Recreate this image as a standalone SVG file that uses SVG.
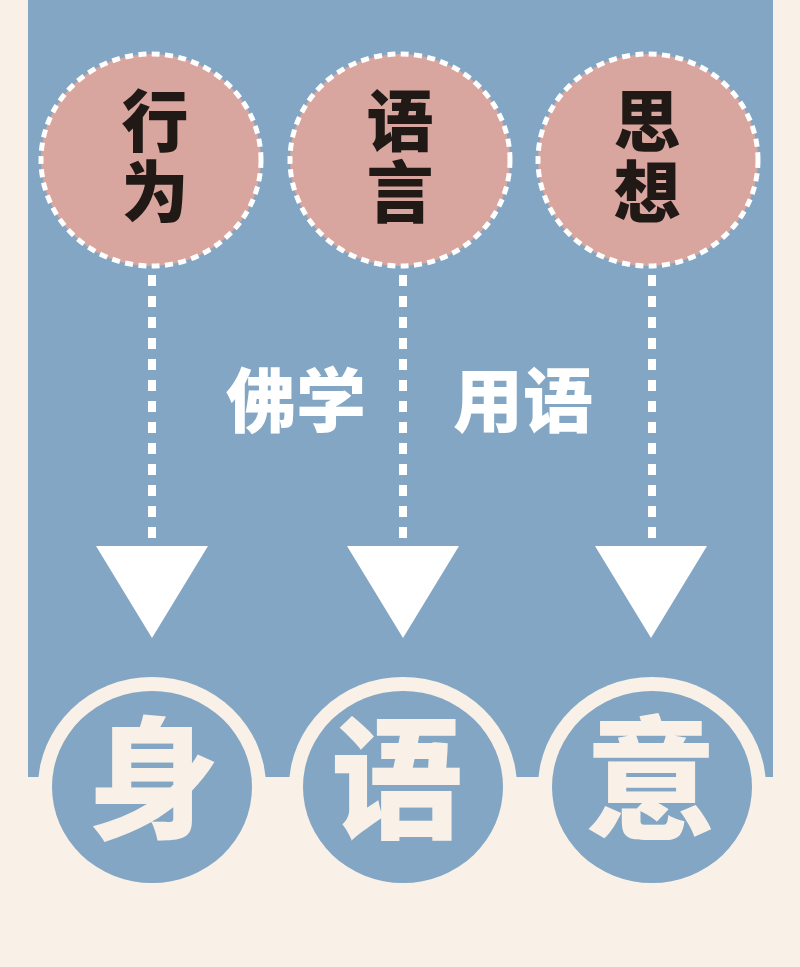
<svg xmlns="http://www.w3.org/2000/svg" width="800" height="967" viewBox="0 0 800 967">
<style>
.top{fill:#d8a59f;stroke:#ffffff;stroke-width:5;stroke-dasharray:8 5.4}
.tt{font-family:"Noto Sans CJK SC","Noto Sans CJK TC",sans-serif;font-weight:900;font-size:67px;fill:#211915;text-anchor:middle;writing-mode:vertical-rl;letter-spacing:4px}
.mt{font-family:"Noto Sans CJK SC","Noto Sans CJK TC",sans-serif;font-weight:900;font-size:70px;fill:#ffffff;text-anchor:middle}
.bt{font-family:"Noto Sans CJK SC","Noto Sans CJK TC",sans-serif;font-weight:900;font-size:132px;fill:#f9f1e7;text-anchor:middle}
.ring{fill:#f9f1e7}
.inner{fill:#82a6c3}
.dash{stroke:#ffffff;stroke-width:8;stroke-dasharray:11 10;fill:none}
.arrow{fill:#ffffff}
</style>
<rect x="0" y="0" width="800" height="967" fill="#f9f1e7"/>
<rect x="28" y="0" width="745" height="777" fill="#82a6c3"/>
<g id="connectors">
<line class="dash" x1="152" y1="275" x2="152" y2="538"/>
<line class="dash" x1="403" y1="275" x2="403" y2="538"/>
<line class="dash" x1="652" y1="275" x2="652" y2="538"/>
<polygon class="arrow" points="96,546 208,546 152,638"/>
<polygon class="arrow" points="347,546 459,546 403,638"/>
<polygon class="arrow" points="595,546 707,546 651,638"/>
</g>
<g id="node-xingwei">
<ellipse class="top" cx="151" cy="160" rx="110" ry="106"/>
<text class="tt" x="155" y="158">行为</text>
</g>
<g id="node-yuyan">
<ellipse class="top" cx="400" cy="160" rx="110" ry="106"/>
<text class="tt" x="400" y="158">语言</text>
</g>
<g id="node-sixiang">
<ellipse class="top" cx="648" cy="160" rx="110" ry="106"/>
<text class="tt" x="647" y="158">思想</text>
</g>
<g id="label">
<text class="mt" x="296" y="427">佛学</text>
<text class="mt" x="523" y="427">用语</text>
</g>
<g id="node-shen">
<ellipse class="ring" cx="152" cy="787" rx="114" ry="110"/>
<ellipse class="inner" cx="152" cy="787" rx="100" ry="96"/>
<text class="bt" x="153" y="828">身</text>
</g>
<g id="node-yu">
<ellipse class="ring" cx="403" cy="787" rx="114" ry="110"/>
<ellipse class="inner" cx="403" cy="787" rx="100" ry="96"/>
<text class="bt" x="397" y="828">语</text>
</g>
<g id="node-yi">
<ellipse class="ring" cx="652" cy="787" rx="114" ry="110"/>
<ellipse class="inner" cx="652" cy="787" rx="100" ry="96"/>
<text class="bt" x="651" y="828">意</text>
</g>
</svg>
